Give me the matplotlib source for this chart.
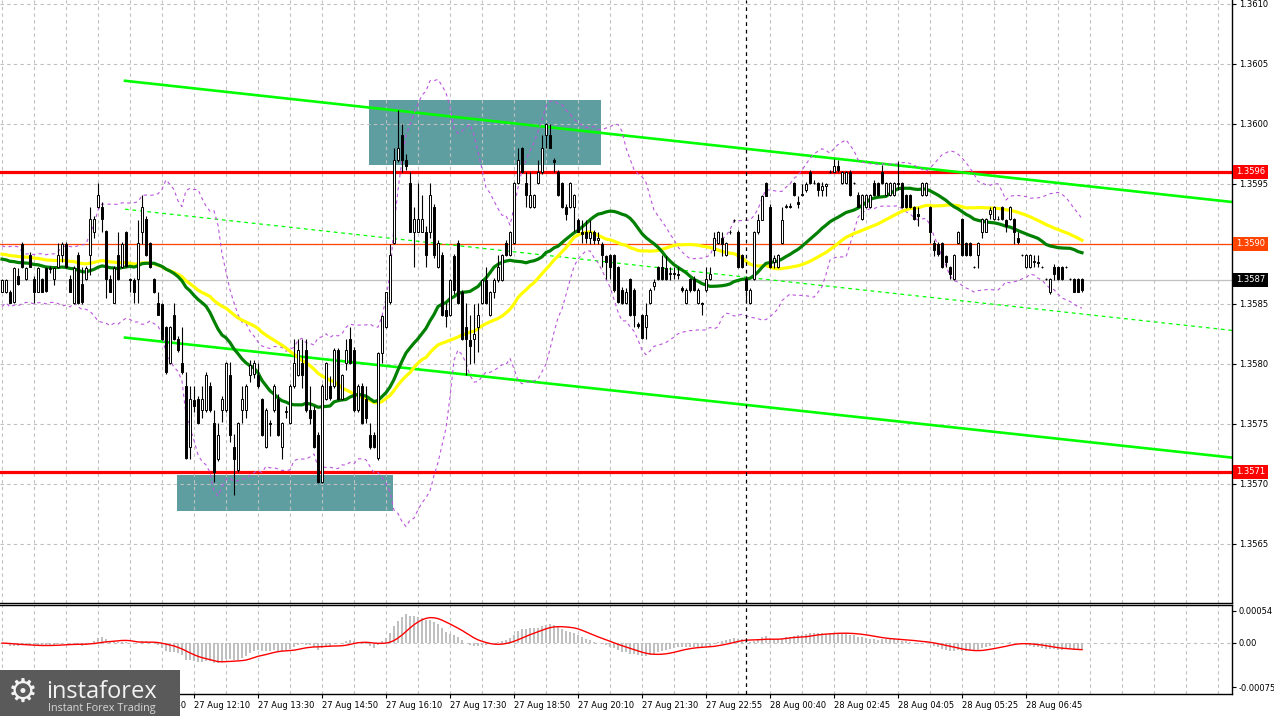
import numpy as np
import pandas as pd
import matplotlib
matplotlib.use("Agg")
import matplotlib.pyplot as plt
import matplotlib.transforms as mtransforms
from matplotlib.patches import Rectangle

W, H = 1274, 716
base = 1.35  # candle values below are pips above 1.3500

opens = [
    86.0, 86.0, 86.0, 85.2, 87.3, 90.0, 87.1, 89.1, 87.1, 86.0,
    87.1, 88.0, 87.9, 87.1, 88.1, 89.1, 90.0, 87.1, 85.1, 89.1,
    86.7, 87.1, 89.1, 91.0, 93.1, 93.1, 91.1, 87.1, 85.1, 89.1,
    88.1, 91.0, 87.1, 87.0, 87.1, 91.0, 92.1, 90.1, 87.1, 85.1,
    85.0, 83.1, 80.1, 84.1, 82.1, 80.1, 78.2, 73.1, 77.0, 77.1,
    76.2, 76.2, 78.2, 75.1, 72.1, 76.2, 76.2, 79.1, 73.1, 71.2,
    76.2, 76.2, 79.1, 79.2, 79.1, 77.1, 73.1, 75.1, 76.2, 77.1,
    73.1, 76.0, 75.1, 78.2, 79.1, 80.1, 81.2, 76.2, 76.2, 74.1,
    70.2, 77.1, 78.2, 78.2, 81.2, 77.1, 80.1, 82.1, 81.2, 76.2,
    78.2, 77.1, 74.1, 74.1, 72.2, 80.9, 83.1, 85.2, 90.1, 97.0,
    99.1, 97.0, 95.1, 91.0, 91.0, 91.0, 91.0, 91.0, 93.1, 88.1,
    89.1, 84.5, 84.1, 89.0, 90.1, 86.0, 83.1, 82.0, 82.1, 83.1,
    85.1, 87.0, 84.1, 86.0, 87.0, 87.0, 90.1, 89.1, 90.1, 95.1,
    98.0, 95.1, 93.1, 93.1, 95.1, 96.0, 99.1, 99.1, 97.0, 96.0,
    95.1, 93.1, 93.1, 93.1, 92.0, 91.0, 91.0, 90.5, 91.0, 90.3,
    90.0, 89.0, 89.1, 89.1, 88.1, 86.2, 85.1, 87.1, 86.2, 83.3,
    84.1, 83.1, 85.1, 86.5, 88.1, 88.1, 88.0, 87.5, 87.6, 87.5,
    86.3, 85.1, 87.1, 87.1, 85.1, 85.1, 86.2, 87.1, 89.5, 90.1,
    90.5, 89.1, 91.0, 92.0, 91.0, 89.1, 87.1, 85.1, 87.1, 91.0,
    92.0, 95.1, 93.1, 88.5, 88.1, 90.1, 93.1, 93.2, 95.1, 93.5,
    94.1, 94.5, 96.0, 95.1, 95.1, 94.5, 94.8, 96.0, 96.0, 96.5,
    95.1, 95.1, 96.0, 95.1, 94.1, 92.1, 93.1, 93.1, 95.1, 95.1,
    96.0, 94.1, 94.1, 94.1, 95.1, 95.1, 94.1, 94.1, 93.1, 92.5,
    94.1, 94.1, 93.1, 90.1, 90.0, 90.1, 89.0, 88.1, 87.1, 90.1,
    92.1, 90.1, 90.1, 88.1, 89.1, 91.0, 91.0, 92.5, 92.1, 92.1,
    93.1, 92.0, 92.1, 92.1, 90.5, 89.1, 88.1, 88.1, 88.5, 88.5,
    88.1, 87.1, 86.0, 88.1, 88.1, 88.1, 88.1, 87.1, 87.1, 87.1,
    87.1,
]
highs = [
    87.1, 87.1, 86.2, 88.1, 88.0, 90.2, 88.1, 89.3, 87.3, 88.1,
    87.2, 88.1, 88.2, 88.1, 90.1, 90.2, 90.2, 87.4, 88.2, 89.3,
    88.1, 88.2, 93.1, 92.3, 95.1, 93.5, 91.2, 87.4, 88.2, 91.0,
    90.2, 91.1, 87.2, 87.2, 92.0, 94.1, 92.3, 90.2, 87.2, 86.0,
    85.1, 83.2, 83.2, 85.1, 82.3, 83.1, 79.3, 78.2, 78.2, 77.3,
    78.2, 79.3, 78.5, 76.2, 75.1, 77.3, 80.2, 80.2, 74.2, 75.2,
    78.2, 78.3, 80.3, 80.3, 80.1, 77.2, 76.3, 75.3, 78.3, 77.5,
    75.2, 76.5, 78.3, 82.1, 82.1, 82.1, 82.1, 78.2, 76.5, 74.3,
    78.3, 80.2, 79.0, 81.3, 81.3, 79.2, 82.1, 83.1, 81.4, 78.3,
    78.4, 78.2, 75.1, 74.3, 81.0, 84.1, 86.0, 90.0, 98.0, 101.2,
    100.0, 97.5, 96.0, 93.1, 95.1, 94.1, 91.5, 95.1, 93.3, 90.3,
    89.3, 85.1, 87.1, 89.2, 90.3, 86.2, 85.1, 84.1, 85.0, 85.1,
    87.1, 88.1, 86.1, 87.2, 89.1, 89.2, 90.3, 91.1, 95.2, 98.0,
    98.1, 96.0, 96.0, 94.2, 97.0, 99.1, 100.1, 100.0, 97.2, 96.2,
    95.2, 93.3, 95.2, 94.2, 92.2, 92.0, 92.0, 92.0, 91.2, 91.0,
    90.2, 89.1, 89.2, 89.2, 88.2, 86.4, 86.3, 87.2, 86.3, 83.5,
    84.2, 85.1, 86.3, 87.1, 88.2, 89.1, 89.0, 88.1, 88.1, 88.1,
    86.5, 86.3, 87.2, 87.3, 86.3, 85.2, 88.1, 88.1, 91.0, 91.1,
    91.0, 90.2, 91.2, 92.1, 91.2, 89.2, 87.3, 86.3, 91.1, 92.5,
    94.1, 95.2, 93.3, 89.1, 89.2, 93.1, 93.3, 93.4, 95.2, 94.0,
    95.0, 95.2, 96.2, 95.3, 95.2, 95.2, 95.1, 96.2, 97.1, 97.0,
    96.1, 96.1, 96.2, 95.2, 94.3, 94.2, 94.2, 94.2, 95.3, 95.2,
    96.6, 95.2, 95.2, 95.2, 96.9, 95.2, 94.2, 94.2, 93.2, 93.1,
    95.2, 95.2, 93.2, 90.3, 90.2, 90.2, 89.1, 88.2, 89.2, 91.1,
    92.2, 90.2, 90.2, 88.2, 90.2, 92.2, 92.2, 93.1, 93.2, 92.3,
    93.2, 92.1, 93.2, 92.2, 91.0, 89.2, 89.2, 89.2, 89.1, 89.1,
    88.2, 87.2, 87.2, 88.3, 88.2, 88.2, 88.2, 87.2, 87.2, 87.2,
    87.2,
]
lows = [
    86.0, 85.9, 85.1, 85.1, 86.6, 88.0, 87.0, 88.1, 85.1, 86.0,
    86.0, 86.0, 87.6, 86.6, 88.0, 88.5, 88.0, 86.0, 85.0, 85.0,
    85.0, 87.0, 87.4, 90.5, 93.0, 91.0, 85.5, 86.0, 85.1, 87.0,
    88.0, 88.1, 86.0, 85.1, 85.1, 90.0, 89.0, 88.0, 85.9, 84.1,
    82.0, 79.2, 80.0, 82.0, 81.0, 79.2, 72.1, 72.1, 76.0, 75.0,
    75.5, 76.0, 76.0, 70.2, 71.9, 75.2, 76.0, 73.5, 69.1, 71.0,
    75.1, 75.5, 78.5, 78.8, 78.0, 74.0, 73.0, 74.0, 76.0, 74.0,
    72.1, 75.5, 75.0, 78.0, 79.0, 78.0, 76.0, 75.0, 73.0, 70.1,
    70.1, 77.0, 77.0, 78.0, 77.0, 77.0, 79.5, 80.0, 76.0, 76.0,
    75.0, 75.1, 72.9, 73.0, 72.0, 80.1, 83.0, 85.0, 90.0, 96.8,
    96.0, 96.2, 91.0, 88.1, 91.0, 91.0, 88.1, 90.5, 88.8, 88.0,
    84.0, 83.1, 84.0, 85.8, 85.0, 82.0, 79.1, 80.0, 80.1, 81.0,
    85.0, 85.0, 84.0, 85.5, 86.8, 86.9, 89.0, 89.0, 90.0, 95.0,
    95.9, 93.1, 93.0, 93.0, 95.0, 95.8, 98.0, 98.0, 96.0, 94.0,
    93.0, 92.0, 93.0, 91.0, 91.0, 90.1, 90.1, 90.0, 90.0, 90.0,
    88.1, 87.1, 87.1, 86.0, 85.1, 85.0, 85.0, 84.0, 83.1, 83.0,
    82.1, 82.1, 85.0, 86.2, 87.0, 87.0, 87.0, 87.0, 87.1, 87.1,
    86.0, 85.0, 86.0, 86.1, 85.0, 84.1, 86.0, 87.0, 89.0, 90.0,
    89.0, 89.0, 90.8, 91.8, 88.0, 88.0, 85.1, 85.0, 87.0, 90.8,
    92.0, 94.0, 88.0, 88.0, 88.0, 90.0, 93.0, 93.0, 94.0, 93.0,
    94.0, 94.3, 95.0, 95.0, 94.0, 94.0, 94.0, 95.9, 96.0, 96.0,
    95.0, 95.0, 94.0, 95.0, 93.1, 92.0, 93.0, 93.0, 94.0, 94.0,
    95.0, 94.0, 94.0, 94.0, 94.5, 93.0, 93.0, 93.0, 92.0, 91.5,
    94.0, 94.0, 90.1, 89.0, 89.0, 88.0, 88.1, 87.1, 87.0, 90.0,
    89.0, 89.0, 89.0, 88.0, 88.0, 90.5, 91.0, 92.1, 92.0, 92.0,
    92.0, 91.0, 92.0, 90.0, 90.0, 89.0, 88.0, 88.0, 88.1, 88.1,
    88.0, 87.0, 85.8, 87.0, 87.0, 87.0, 88.0, 87.0, 86.0, 86.0,
    86.0,
]
closes = [
    87.0, 87.0, 85.1, 88.0, 86.7, 88.1, 88.0, 88.1, 86.0, 88.0,
    86.0, 86.1, 88.0, 88.0, 89.1, 90.0, 88.1, 86.0, 88.0, 85.1,
    85.2, 88.0, 92.1, 92.1, 94.1, 92.1, 87.1, 86.0, 88.0, 87.1,
    90.0, 88.2, 87.0, 86.0, 90.1, 93.1, 89.1, 88.1, 86.0, 84.1,
    82.1, 79.3, 83.1, 82.1, 81.2, 79.3, 72.2, 77.1, 76.5, 75.1,
    77.1, 79.1, 76.2, 71.0, 74.1, 77.1, 80.1, 74.1, 72.1, 75.1,
    77.1, 78.2, 79.9, 80.1, 78.2, 74.1, 76.2, 75.0, 78.2, 74.1,
    75.1, 76.1, 78.2, 80.1, 81.2, 79.1, 76.2, 75.5, 73.1, 70.2,
    78.2, 80.1, 77.2, 81.2, 77.1, 79.1, 81.2, 80.1, 76.2, 78.2,
    75.1, 75.5, 73.1, 73.1, 80.9, 84.0, 86.0, 89.1, 97.0, 98.0,
    97.0, 96.5, 91.0, 92.1, 92.1, 92.1, 89.1, 94.1, 89.1, 90.1,
    84.1, 84.0, 87.0, 86.2, 85.1, 82.1, 82.1, 81.5, 82.5, 84.1,
    87.0, 85.1, 86.0, 87.0, 88.1, 89.1, 89.1, 91.0, 95.1, 97.0,
    96.0, 94.1, 94.1, 94.1, 96.0, 98.0, 100.0, 98.0, 96.8, 94.1,
    93.1, 92.5, 95.1, 94.1, 91.0, 90.8, 90.5, 91.0, 90.3, 90.5,
    89.1, 88.5, 88.1, 86.2, 85.2, 85.1, 86.0, 84.1, 84.1, 83.2,
    82.2, 84.1, 86.2, 86.8, 87.1, 87.1, 87.1, 87.6, 87.5, 87.4,
    86.2, 86.2, 86.2, 86.2, 86.2, 85.0, 87.1, 87.5, 90.5, 91.0,
    90.0, 90.1, 91.0, 92.0, 88.1, 88.1, 86.2, 86.2, 91.0, 92.0,
    94.0, 94.0, 88.1, 88.8, 89.1, 92.0, 93.2, 93.1, 94.1, 93.3,
    94.2, 95.0, 95.1, 95.1, 94.5, 94.8, 95.0, 96.0, 96.5, 96.2,
    96.0, 96.0, 94.1, 95.1, 93.1, 94.1, 94.1, 94.1, 94.1, 94.1,
    95.1, 95.1, 95.1, 95.1, 95.0, 93.1, 93.1, 93.1, 92.1, 92.3,
    95.1, 95.1, 91.0, 89.5, 89.2, 88.1, 88.5, 87.5, 89.1, 91.0,
    89.1, 89.1, 89.1, 88.1, 90.1, 92.1, 92.1, 92.8, 93.1, 92.1,
    92.1, 91.5, 93.1, 91.0, 90.2, 89.1, 89.1, 89.1, 88.6, 88.4,
    88.1, 87.1, 87.1, 87.5, 87.1, 87.1, 88.1, 87.1, 86.0, 86.0,
    86.2,
]

# levels and drawn objects (bar index, price)
red_levels = [1.3596, 1.3571]
orange_level = 1.3590
last_price = 1.3587
channel_top = [(30.75, 1.36036), (307.5, 1.35935)]
channel_bottom = [(30.75, 1.35822), (307.5, 1.35722)]
channel_mid = [(30.75, 1.35929), (307.5, 1.35828)]
zones = [(91.75, 149.75, 1.35966, 1.36020), (43.75, 97.75, 1.356775, 1.357075)]
session_bar = 186

time_ticks = [32, 48, 64, 80, 96, 112, 128, 144, 160, 176, 192, 208, 224, 240, 256]
time_labels = ["27 Aug 10:50", "27 Aug 12:10", "27 Aug 13:30",
               "27 Aug 14:50", "27 Aug 16:10", "27 Aug 17:30", "27 Aug 18:50", "27 Aug 20:10",
               "27 Aug 21:30", "27 Aug 22:55", "28 Aug 00:40", "28 Aug 02:45", "28 Aug 04:05",
               "28 Aug 05:25", "28 Aug 06:45"]

ma_fast_start, ma_slow_start = 88.8, 89.2  # MA levels at the left edge

o = base + np.array(opens) / 1e4
c = base + np.array(closes) / 1e4
h = base + np.maximum(np.array(highs), np.maximum(opens, closes)) / 1e4
l = base + np.minimum(np.array(lows), np.minimum(opens, closes)) / 1e4
n = len(c)
idx = np.arange(n)
cp = np.array(closes)


def sma(vals, period, start):
    s = pd.Series(np.r_[np.full(period - 1, start), vals])
    return s.rolling(period).mean().to_numpy()[period - 1:]


ma30 = base + sma(cp, 30, ma_fast_start) / 1e4
ma50 = base + sma(cp, 50, ma_slow_start) / 1e4

s = pd.Series(np.r_[cp[1:20][::-1], cp])
bb_mid = s.rolling(20).mean().to_numpy()[19:]
bb_sd = s.rolling(20).std(ddof=0).to_numpy()[19:]
bb_up = base + (bb_mid + 2 * bb_sd) / 1e4
bb_dn = base + (bb_mid - 2 * bb_sd) / 1e4

sp = pd.Series(np.r_[np.full(60, ma_fast_start), cp])
macd = (sp.ewm(span=12, adjust=False).mean() - sp.ewm(span=26, adjust=False).mean()) / 1e4
signal = macd.rolling(9).mean()
macd = macd.to_numpy()[60:]
signal = signal.to_numpy()[60:]

fig = plt.figure(figsize=(W / 100, H / 100), dpi=100)
fig.patch.set_facecolor("white")
ax = fig.add_axes([0, (H - 603) / H, 1232 / W, 603 / H])
ax2 = fig.add_axes([0, (H - 694) / H, 1232 / W, (694 - 605) / H])

xmin, xmax = -0.5, 307.5
ax.set_xlim(xmin, xmax)
ax.set_ylim(1.3560083, 1.3610333)
ax2.set_xlim(xmin, xmax)
ax2.set_ylim(-0.000861, 0.000641)

grid_kw = dict(color="#c0c0c0", lw=0.8, ls=(0, (3, 3)), zorder=1)
yticks = np.round(np.arange(1.3565, 1.36101, 0.0005), 4)
for gx in range(0, 308, 8):
    ax.axvline(gx, **grid_kw)
    ax2.axvline(gx, **grid_kw)
for gy in yticks:
    ax.axhline(gy, **grid_kw)
ax2.axhline(0, **grid_kw)

for x0, x1, y0, y1 in zones:
    ax.add_patch(Rectangle((x0, y0), x1 - x0, y1 - y0, facecolor="#5f9ea0", edgecolor="none", zorder=0.8))

# levels
for lv in red_levels:
    ax.axhline(lv, color="#ff0000", lw=2.3, zorder=2)
ax.axhline(orange_level, color="#ff4500", lw=0.9, zorder=2)
ax.axhline(last_price, color="#c0c0c0", lw=0.9, zorder=2)

# channel
for pts, kw in [(channel_top, dict(lw=1.9, ls="-")), (channel_bottom, dict(lw=1.9, ls="-")),
                (channel_mid, dict(lw=0.9, ls=(0, (3, 3))))]:
    ax.plot([pts[0][0], pts[1][0]], [pts[0][1], pts[1][1]], color="#00ff00", zorder=2.5, **kw)

# indicators
ax.plot(idx, bb_up, color="#bb55dd", lw=0.8, ls=(0, (3, 3)), zorder=2.6)
ax.plot(idx, bb_dn, color="#bb55dd", lw=0.8, ls=(0, (3, 3)), zorder=2.6)
ax.plot(idx, ma50, color="#ffff00", lw=2.3, zorder=2.7)
ax.plot(idx, ma30, color="#008000", lw=2.3, zorder=2.8)

# candles
ax.vlines(idx, l, h, color="black", lw=0.8, zorder=3)
bull = c >= o
ax.bar(idx[bull], (c - o)[bull], bottom=o[bull], width=0.55, facecolor="white",
       edgecolor="black", lw=0.7, zorder=4)
ax.bar(idx[~bull], (c - o)[~bull], bottom=o[~bull], width=0.55, facecolor="black",
       edgecolor="black", lw=0.7, zorder=4)

# session separator
for a in (ax, ax2):
    a.axvline(session_bar, color="black", lw=0.9, ls=(0, (3, 3)), zorder=5)

# MACD
ax2.bar(idx, macd, width=0.5, color="#c0c0c0", zorder=2)
ax2.plot(idx, signal, color="#ff0000", lw=1.0, zorder=3)

# axes styling
for a in (ax, ax2):
    a.spines["left"].set_visible(False)
    for sname in ("right", "bottom", "top"):
        a.spines[sname].set_color("black")
        a.spines[sname].set_linewidth(1.0)
    a.yaxis.tick_right()
    a.tick_params(axis="y", direction="out", length=3, width=0.8, labelsize=6, pad=2, colors="black")
ax.spines["top"].set_visible(False)
ax.set_yticks(yticks)
# the 1.3590 scale label is hidden under the orange level tag
ax.set_yticklabels(["" if np.isclose(v, orange_level) else f"{v:.4f}" for v in yticks])
ax.tick_params(axis="x", bottom=False, labelbottom=False)

ax2.set_yticks([0.00054, 0.0, -0.00075])
ax2.set_yticklabels(["0.00054", "0.00", "-0.00075"])
ax2.set_xticks(time_ticks)
ax2.set_xticklabels(time_labels)
ax2.tick_params(axis="x", direction="out", length=3, width=0.8, labelsize=6, pad=2)
for lbl in ax2.get_xticklabels():
    lbl.set_ha("left")

# the first time label sits under the logo: only its tail shows
clip = Rectangle((180 / W, 0), 1 - 180 / W, 1, transform=fig.transFigure, visible=False)
fig.add_artist(clip)
ax2.get_xticklabels()[0].set_clip_path(clip)

# price labels on the right scale
trans = mtransforms.blended_transform_factory(ax.transAxes, ax.transData)
for lv, fc in [(red_levels[0], "#ff0000"), (red_levels[1], "#ff0000"),
               (orange_level, "#ff4500"), (last_price, "black")]:
    ax.annotate(f"{lv:.4f}", xy=(1, lv), xycoords=trans, xytext=(3, 0), textcoords="offset points",
                ha="left", va="center", fontsize=6, color="white", zorder=20, annotation_clip=False,
                bbox=dict(boxstyle="square,pad=0.35", facecolor=fc, edgecolor="none"))

# logo
fig.add_artist(Rectangle((0, 0), 180 / W, 46 / H, transform=fig.transFigure,
                         facecolor="#5a5a5a", edgecolor="none", zorder=30))
fig.text(23 / W, (716 - 692) / H, "\u2699", fontsize=24, color="#f2f2f2", ha="center", va="center", zorder=31)
fig.text(46 / W, (716 - 698) / H, "instaforex", fontsize=17, color="#f2f2f2",
         family="Open Sans", ha="left", va="baseline", zorder=31)
fig.text(48 / W, (716 - 711) / H, "Instant Forex Trading", fontsize=7.8, color="#d8d8d8",
         family="Open Sans", ha="left", va="baseline", zorder=31)

fig.savefig("out.png", dpi=100, facecolor="white")
